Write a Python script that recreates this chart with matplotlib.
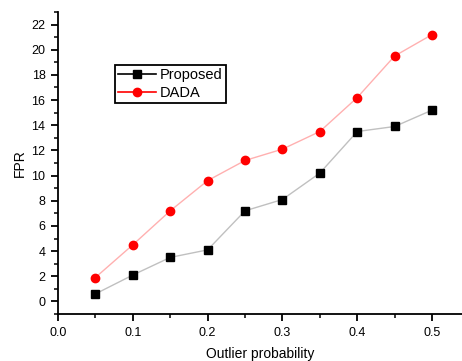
import matplotlib
matplotlib.use('Agg')
import matplotlib.pyplot as plt
from matplotlib.lines import Line2D
from matplotlib.ticker import MultipleLocator

plt.rcParams['font.family'] = ['Liberation Sans', 'DejaVu Sans']

# data
outlier_prob = [0.05, 0.10, 0.15, 0.20, 0.25, 0.30, 0.35, 0.40, 0.45, 0.50]
fpr_proposed = [0.6, 2.1, 3.5, 4.1, 7.2, 8.1, 10.2, 13.5, 13.9, 15.2]
fpr_dada = [1.9, 4.5, 7.2, 9.6, 11.2, 12.1, 13.5, 16.2, 19.5, 21.2]
series_names = ['Proposed', 'DADA']

fig = plt.figure(figsize=(4.62, 3.61), dpi=100)
ax = fig.add_axes([0.1255, 0.130, 0.8745, 0.837])

# connecting lines are faint, markers are solid
ax.plot(outlier_prob, fpr_proposed, color='#c0c0c0', lw=1, marker='s',
        ms=5.2, mfc='black', mec='black', zorder=3)
ax.plot(outlier_prob, fpr_dada, color='#ffb0b0', lw=1, marker='o',
        ms=6, mfc='red', mec='red', zorder=3)

ax.set_xlim(0, 0.54)
ax.set_ylim(-1, 23)
ax.xaxis.set_major_locator(MultipleLocator(0.1))
ax.xaxis.set_minor_locator(MultipleLocator(0.05))
ax.yaxis.set_major_locator(MultipleLocator(2))
ax.yaxis.set_minor_locator(MultipleLocator(1))
ax.set_xticks([0.0, 0.1, 0.2, 0.3, 0.4, 0.5])
ax.set_xticklabels(['0.0', '0.1', '0.2', '0.3', '0.4', '0.5'])

for s in ['top', 'right']:
    ax.spines[s].set_visible(False)
for s in ['left', 'bottom']:
    ax.spines[s].set_linewidth(1.3)

ax.tick_params(which='major', direction='out', length=5, width=1.3,
               labelsize=9, pad=4)
ax.tick_params(which='minor', direction='out', length=3, width=1.1)

ax.set_xlabel('Outlier probability', fontsize=10, labelpad=6)
ax.set_ylabel('FPR', fontsize=10, labelpad=3)

handles = [
    Line2D([], [], color='black', lw=1.2, marker='s', ms=6),
    Line2D([], [], color='red', lw=1.2, marker='o', ms=6),
]
leg = ax.legend(handles, series_names, loc='upper left',
                bbox_to_anchor=(0.141, 0.825), borderaxespad=0,
                fontsize=10.5, fancybox=False, edgecolor='black',
                framealpha=1, handlelength=2.6, handletextpad=0.3,
                borderpad=0.2, labelspacing=0.3)
leg.get_frame().set_linewidth(1.3)

fig.savefig('out.png', dpi=100)
